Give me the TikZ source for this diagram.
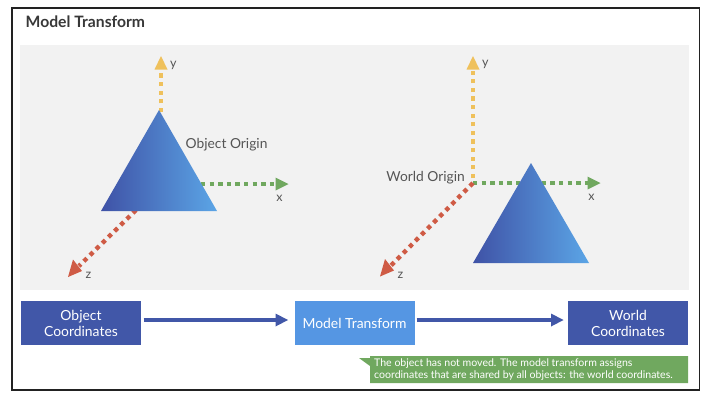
\documentclass[tikz,border=0pt]{standalone}
\usepackage{fontspec}
\setmainfont{Lato}
\usetikzlibrary{arrows.meta}
\definecolor{navy}{HTML}{4157A8}
\definecolor{sky}{HTML}{5596E3}
\definecolor{panel}{HTML}{F2F2F2}
\definecolor{frameblack}{HTML}{222222}
\definecolor{axisy}{HTML}{EFC15C}
\definecolor{axisx}{HTML}{70A85F}
\definecolor{axisz}{HTML}{CF5B45}
\definecolor{textgray}{HTML}{555555}
\definecolor{gradL}{HTML}{3F52A6}
\definecolor{gradR}{HTML}{5BA5E6}
\tikzset{
  x=1pt,y=-1pt,
  flowbox/.style={draw=none,minimum width=120pt,minimum height=44pt,text=white,align=center,font=\fontsize{13.9}{15.5}\selectfont,inner sep=0pt},
  axisline/.style={line width=4.4pt,dash pattern=on 4.3pt off 4.3pt},
  axislabel/.style={text=textgray,font=\fontsize{12.5}{14}\selectfont,inner sep=0pt},
  originlabel/.style={text=textgray,font=\fontsize{13.8}{15}\selectfont,inner sep=0pt},
}
\begin{document}
\begin{tikzpicture}
\useasboundingbox (0,0) rectangle (714,400);
\fill[white] (0,0) rectangle (714,400);
\draw[frameblack,line width=1.6pt] (12,8) rectangle (699.5,390);
\fill[panel] (20,45) rectangle (689,290);
\node[anchor=west,inner sep=0pt,text=frameblack!90,font=\fontsize{15.7}{17}\selectfont\bfseries] (title) at (25.5,21.5) {Model Transform};

% left axes
\coordinate (yA) at (161,56);
\coordinate (yAo) at (161,112);
\coordinate (xAo) at (201,184);
\coordinate (xA) at (288.5,184);
\coordinate (zAo) at (136,210);
\coordinate (zA) at (68,277);
\draw[axisy,axisline] (yAo) -- (161,68);
\fill[axisy] (yA) -- (167.5,69.5) -- (154.5,69.5) -- cycle;
\draw[axisx,axisline] (xAo) -- (276,184);
\fill[axisx] (xA) -- (275.5,177.5) -- (275.5,190.5) -- cycle;
\draw[axisz,axisline] (zAo) -- (79,266);
\fill[axisz] (zA) -- (73,259.5) -- (82,271) -- cycle;
\shade[left color=gradL,right color=gradR] (159,110) -- (217,211) -- (101,211) -- cycle;
\node[originlabel,anchor=west] (objo) at (185.5,145) {Object Origin};
\node[axislabel,anchor=west] (yAl) at (170,65) {y};
\node[axislabel,anchor=center] (xAl) at (279.5,198) {x};
\node[axislabel,anchor=center] (zAl) at (88.5,275.5) {z};

% right axes
\coordinate (yB) at (473,56);
\coordinate (oB) at (473,183);
\coordinate (xB) at (600.5,183);
\coordinate (zB) at (380,276.5);
\draw[axisy,axisline] (473,178) -- (473,68);
\fill[axisy] (yB) -- (479.5,69.5) -- (466.5,69.5) -- cycle;
\draw[axisx,axisline] (oB) -- (588,183);
\fill[axisx] (xB) -- (587.5,176.5) -- (587.5,189.5) -- cycle;
\draw[axisz,axisline] (oB) -- (391,265.5);
\fill[axisz] (zB) -- (385,259) -- (394,270.5) -- cycle;
\shade[left color=gradL,right color=gradR] (531,163) -- (589,263) -- (473,263) -- cycle;
\node[originlabel,anchor=east] (wo) at (465,178) {World Origin};
\node[axislabel,anchor=west] (yBl) at (482,64.5) {y};
\node[axislabel,anchor=center] (xBl) at (591.5,197.5) {x};
\node[axislabel,anchor=center] (zBl) at (400.5,275) {z};

% flow
\node[flowbox,fill=navy] (obj) at (81,323) {\raisebox{0.5pt}{Object}\\Coordinates};
\node[flowbox,fill=sky] (mod) at (354.5,323) {Model Transform};
\node[flowbox,fill=navy] (wor) at (628,323) {\raisebox{0.5pt}{World}\\Coordinates};
\coordinate (a1e) at (288,320);
\coordinate (a1s) at (143.5,320);
\coordinate (a2s) at (416.5,320);
\coordinate (a2e) at (563.5,320);
\draw[navy,line width=4pt] (a1s) -- (277,320);
\fill[navy] (a1e) -- (275.5,313.5) -- (275.5,326.5) -- cycle;
\draw[navy,line width=4pt] (a2s) -- (552,320);
\fill[navy] (a2e) -- (551,313.5) -- (551,326.5) -- cycle;

% callout
\fill[axisx] (370,356) -- (688,356) -- (688,383) -- (370,383) -- (370,366) -- (359,358) -- (370,358) -- cycle;
\node[anchor=west,inner sep=0pt,text=white,align=left,font=\fontsize{10.55}{12.4}\selectfont] (note) at (374,369.5) {The object has not moved. The model transform assigns\\coordinates that are shared by all objects: the world coordinates.};
\end{tikzpicture}
\end{document}
